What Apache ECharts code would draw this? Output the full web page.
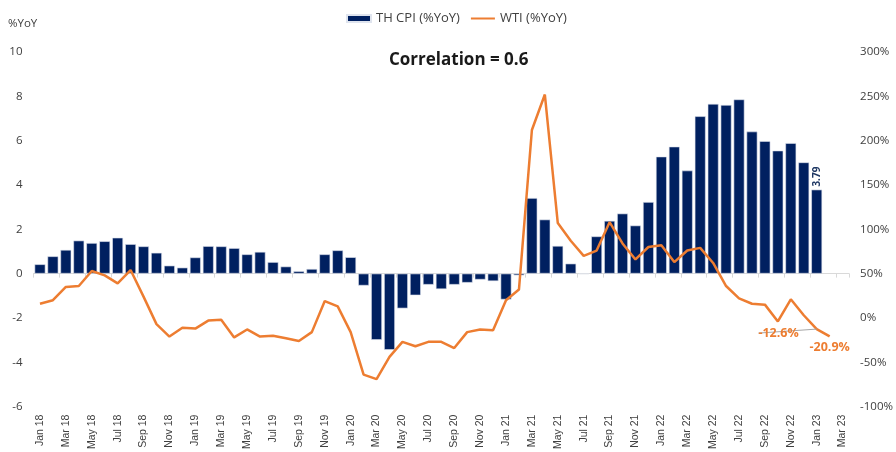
<!DOCTYPE html>
<html>
<head>
<meta charset="utf-8">
<title>TH CPI vs WTI</title>
<script src="https://cdn.jsdelivr.net/npm/echarts@6/dist/echarts.min.js"></script>
<style>
  html, body { margin: 0; padding: 0; background: #fff; }
  #chart { width: 896px; height: 452px; }
</style>
</head>
<body>
<div id="chart"></div>
<script>
// 月份标签 (每两个月显示一个)
const months = [
  'Jan 18', 'Feb 18', 'Mar 18', 'Apr 18', 'May 18', 'Jun 18', 'Jul 18', 'Aug 18', 'Sep 18', 'Oct 18', 'Nov 18', 'Dec 18',
  'Jan 19', 'Feb 19', 'Mar 19', 'Apr 19', 'May 19', 'Jun 19', 'Jul 19', 'Aug 19', 'Sep 19', 'Oct 19', 'Nov 19', 'Dec 19',
  'Jan 20', 'Feb 20', 'Mar 20', 'Apr 20', 'May 20', 'Jun 20', 'Jul 20', 'Aug 20', 'Sep 20', 'Oct 20', 'Nov 20', 'Dec 20',
  'Jan 21', 'Feb 21', 'Mar 21', 'Apr 21', 'May 21', 'Jun 21', 'Jul 21', 'Aug 21', 'Sep 21', 'Oct 21', 'Nov 21', 'Dec 21',
  'Jan 22', 'Feb 22', 'Mar 22', 'Apr 22', 'May 22', 'Jun 22', 'Jul 22', 'Aug 22', 'Sep 22', 'Oct 22', 'Nov 22', 'Dec 22',
  'Jan 23', 'Feb 23', 'Mar 23'
]

// TH CPI (%YoY)
const thCpi = [
  0.42, 0.78, 1.07, 1.49, 1.38, 1.46, 1.62, 1.33, 1.23, 0.94, 0.36,
  0.27, 0.73, 1.24, 1.23, 1.15, 0.87, 0.98, 0.52, 0.32, 0.11, 0.21, 0.87,
  1.05, 0.74, -0.54, -2.99, -3.44, -1.57, -0.98, -0.50, -0.70, -0.50, -0.41, -0.27,
  -0.34, -1.17, -0.08, 3.41, 2.44, 1.25, 0.45, -0.02, 1.68, 2.38, 2.71, 2.17,
  3.23, 5.28, 5.73, 4.65, 7.10, 7.66, 7.61, 7.86, 6.41, 5.98, 5.55, 5.89,
  5.02, 3.79
]

// WTI (%YoY)
const wti = [
  16, 20, 35, 36, 53, 48, 39, 54, 24, -7, -21,
  -11, -12, -3, -2, -22, -13, -21, -20, -23, -26, -16, 19,
  13, -16, -64, -69, -44, -27, -32, -27, -27, -34, -16, -13,
  -14, 20, 32, 212, 252, 107, 87, 70, 76, 108, 84, 66,
  80, 82, 63, 76, 79, 62, 36, 22, 16, 15, -4, 21,
  3, -12.6, -20.9
]

const cpiLabelIndex = [60]
const wtiLabelIndex = [60, 61]

const navy = '#002060'
const orange = '#ED7D31'
const textColor = '#404040'

const chart = echarts.init(document.getElementById('chart'))

const cpiData = thCpi.map((v, i) => {
  if (!cpiLabelIndex.includes(i)) return v
  return {
    value: v,
    label: {
      show: true,
      position: 'top',
      rotate: 90,
      align: 'left',
      verticalAlign: 'middle',
      distance: 3,
      color: '#1F3864',
      fontSize: 10,
      fontWeight: 'bold',
      fontFamily: 'Open Sans'
    }
  }
})

const wtiData = wti.map((v, i) => {
  if (!wtiLabelIndex.includes(i)) return v
  const first = i === wtiLabelIndex[0]
  return {
    value: v,
    symbol: 'circle',
    symbolSize: 0,
    label: {
      show: true,
      position: first ? 'left' : 'bottom',
      offset: first ? [0, 0] : [10, -1],
      distance: 4,
      formatter: '{c}%',
      color: orange,
      fontSize: 12.5,
      fontWeight: 'bold',
      fontFamily: 'Open Sans'
    },
    labelLine: {
      show: first,
      lineStyle: { color: '#a6a6a6', width: 1 }
    }
  }
})

const option = {
  animation: false,
  title: {
    text: 'Correlation = 0.6',
    left: 384,
    top: 47,
    textStyle: {
      fontSize: 17,
      fontWeight: 'bold',
      color: '#1a1a1a',
      fontFamily: 'Open Sans'
    }
  },
  legend: {
    top: 7,
    left: 341,
    itemGap: 10,
    itemWidth: 24,
    itemHeight: 7,
    textStyle: { color: textColor, fontSize: 13, fontFamily: 'Open Sans' },
    data: [
      { name: 'TH CPI (%YoY)', icon: 'rect' },
      { name: 'WTI (%YoY)', itemStyle: { opacity: 0 } }
    ]
  },
  graphic: [
    {
      type: 'text',
      left: 8,
      top: 18,
      style: { text: '%YoY', fill: textColor, fontSize: 11.5, fontFamily: 'Open Sans' }
    }
  ],
  grid: {
    left: 33.5,
    right: 42,
    top: 52,
    bottom: 41
  },
  xAxis: [
    {
      type: 'category',
      data: months,
      position: 'bottom',
      axisLine: { show: false, onZero: false },
      axisTick: { show: false },
      axisLabel: {
        interval: 1,
        rotate: 90,
        margin: 8,
        color: textColor,
        fontSize: 10.5,
        fontFamily: 'Liberation Sans'
      }
    },
    {
      type: 'category',
      data: months,
      position: 'bottom',
      axisLine: { show: true, onZero: true, onZeroAxisIndex: 0, lineStyle: { color: '#d9d9d9', width: 1 } },
      axisTick: { show: true, interval: 1, length: 4, lineStyle: { color: '#d9d9d9' } },
      axisLabel: { show: false }
    }
  ],
  yAxis: [
    {
      type: 'value',
      min: -6,
      max: 10,
      interval: 2,
      splitLine: { show: false },
      axisLine: { show: false },
      axisTick: { show: false },
      axisLabel: { color: textColor, fontSize: 11.5, margin: 11, fontFamily: 'Open Sans' }
    },
    {
      type: 'value',
      min: -100,
      max: 300,
      interval: 50,
      position: 'right',
      splitLine: { show: false },
      axisLine: { show: false },
      axisTick: { show: false },
      axisLabel: {
        color: textColor,
        fontSize: 11.5,
        margin: 11,
        formatter: '{value}%',
        fontFamily: 'Open Sans'
      }
    }
  ],
  series: [
    {
      name: 'TH CPI (%YoY)',
      type: 'bar',
      xAxisIndex: 0,
      yAxisIndex: 0,
      barCategoryGap: '16%',
      itemStyle: { color: navy, borderColor: '#dfe4ee', borderWidth: 0.6 },
      data: cpiData
    },
    {
      name: 'WTI (%YoY)',
      type: 'line',
      xAxisIndex: 0,
      yAxisIndex: 1,
      symbol: 'none',
      showAllSymbol: true,
      lineStyle: { color: orange, width: 2.5 },
      itemStyle: { color: orange },
      labelLayout: function (params) {
        if (params.dataIndex === wtiLabelIndex[0]) {
          return { dx: -14, dy: 4 }
        }
        return {}
      },
      data: wtiData
    }
  ]
}

chart.setOption(option)
</script>
</body>
</html>
